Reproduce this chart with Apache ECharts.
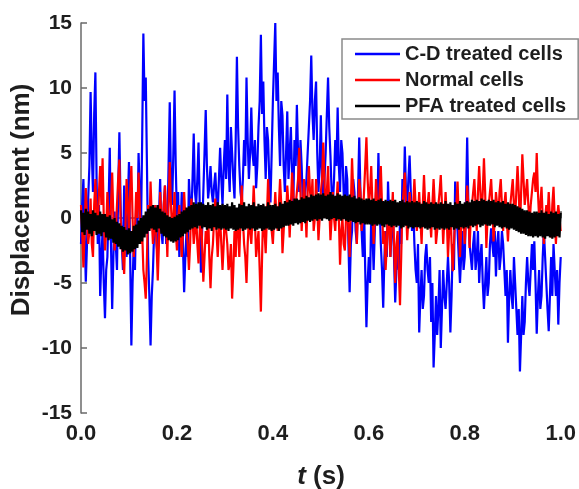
<!DOCTYPE html>
<html>
<head>
<meta charset="utf-8">
<script src="https://cdn.jsdelivr.net/npm/echarts@6/dist/echarts.min.js"></script>
<style>html,body{margin:0;padding:0;background:#fff;}#c{width:579px;height:489px;}</style>
</head>
<body>
<div id="c"></div>
<script>
// sampling step of the recorded traces (s)
const dt = 0.0025;
const seriesNames = ['C-D treated cells', 'Normal cells', 'PFA treated cells'];
const xTicks = ['0.0', '0.2', '0.4', '0.6', '0.8', '1.0'];
const yTicks = ['-15', '-10', '-5', '0', '5', '10', '15'];

// C-D treated cells displacement (nm)
const cdValues = [
-2,1,3,-1,-4.9,-2,1.5,4,9.7,5,2,8,11.2,3,-2,1,-6,-3,-1,-5,
-7.7,-4,-3,1,5.4,-2,-7,-3,0.5,-2,-4,2,6.6,1,-2,-4,2.5,0,-3,1,
4.3,-3,-9.8,-5,-2,-4,1,-1,5,2,-1,6,14.2,9,10.8,4,-3,-6,-9.8,-6,
-4,-1,1,-2,-3,0,3,-1,-2,1,2.5,-2,-1,4,8.9,3,1,5,9.8,4,
0,2,-3,-1,2,-2,-5.7,-3,-1,-3,3,1,0,3,6.5,2,1,3,5.8,1,
-4.2,-1,2,5,8.3,4,1.5,2.5,4,2,1.2,2.5,3.5,1.5,0.5,3,5.4,3,1,4,
6,3,9.5,4,2,7,5,3,1.5,6,12.4,7,4,2,1.2,3,6,4,10.8,6,
3,5,8.5,5,4,6,2.3,4,7,9,14.1,8,10.5,6,3,7,6,3,1.2,5,
9,12,15,9,11.2,7,4,9,7.9,4,2,5,8.2,3,5,7,3.3,1,6,4,
8.7,5,2,6,4,1,-0.3,2,3,5,7,9,12.5,8,6,9,10.5,5,2,4,
7.9,3,1,3,5,8,10.8,7,4.8,2,1,3,6,4,8.5,4,2,6,5,2,
0,4,3,-2,-5.7,-2,-1,3,2,-1,-2,2,6.2,2,-1,-3,1,-4,-8.4,-5,
-3,-5,0.2,-1,-4,-1,2,0,5,1,-2,-4,-6.9,-3,-1,-3,2.8,0,-3,-1,
1,-3,-6.5,-4,-2,-4,0,-2,3,1,5.5,2,1,3,4.8,2,-1,1,-2,-4,
-5,-2,-8.8,-6,-4,-7,-6,-3,-2,-4,-5,-3,-8,-5,-11.5,-9,-6,-9,-7,-4,
-10,-7,-4,-6,-7,-5,-3,-5,-8.8,-6,-2,-4,2.8,0,-1,-3,-5,-3,-1,-4,
-3,1,6.2,1,-2,-3,-4,-2,-1,-4,-3,-1,-5,-3,-2,-5,-7,-5,-3,-6,
-5,-2,-0.8,-2,-3,-1,-4.5,-2,-1,-4,-3,-1,-2,-4,-6,-4,-9.6,-6,-4,-6,
-7,-3,-5,-7,-9,-7,-11.8,-9,-6,-9,-8,-5,-3,-5,-6,-4,-2,-4,-1.8,-5,
-8.9,-6,-4,-7,-6,-3,-1,-3,-5,-7,-8.7,-6,-3,-6,-2,-4,-6,-4,-8.2,-5,
-3];

// Normal cells displacement (nm)
const normalValues = [
1,-1,-3.8,-1,2.3,0,-2,-1,1.5,-2,-3,1,3,0,-1,2,4,1,4.6,0,
-2.5,-1,2,0,-1.5,1,3.5,0,-2.5,-1,1,3,4.5,0,-2,-3,-4.3,-1,3,1,
-1,2,4,0,-3,-1,2,0,3.5,1,-2,-1,-4,-5,-6.2,-3,1,-1,2.8,0,
-2,-1,1,-2,-4.8,-2,2,0,-1,1,2.5,0,-3,1,4.3,1,-1,0,2,-1,
-2.5,0,1,-1,-3,-1,2,0,-1,-2,-4,-2,1.5,0,-2,-1,0.5,-2,-3.5,-1,
1,-2,-4.9,-3,-1,-2,0.5,-3,-5.4,-3,-2,0,1.5,-1,-3,-1,0,-2,-4,-2,
1,-1,-2,-4,-3.5,-2,-6.2,-4,-1,-3,0.5,-1,-3,0,2.5,0,-2,-3,-5,-2,
0,-1,-2,0,2.5,0,-3,-2,-1,-4,-7.2,-3,1,-1,-2.7,0,3,1,0,-1,
-2,0,2,0,-1,1,3,1,-2.7,-1,1,0,2.5,1,-1.5,1,3.5,2,0,1,
2,3,5.4,2,-1,1,3,1,-1.5,2,4,2,1,3,-1,0,3,1,-1.7,0,
2,3,5.8,3,0,2,4,1,-1.7,0,2,0,-1,1,2.8,0,-3.6,-1,0,-2,
-2.5,0,1.5,-1,-3,1,4.6,2,0,1,-2,1,3,2,-1,0,2,4,6.2,3,
1,2,4,1,-2,0,3,1,0,2,4,1,-2,-1,-4,-2,1,-1,-3,0,
2,-2,-5,-2,-1,-4,-6.7,-3,1,2,3.5,1,-1.7,0,2,1,0,1,3,1,
-1,0,2,0,-2,1,3.3,1,0,1,2,0,-1.5,1,3,1,-2,-1,1,2,
3.3,1,-2,0,2,0,-3,-1,1,-2,-4.1,-2,0,1,2.8,0,-3,-1,1,0,
-2,0,2.5,1,-2.3,0,1,2,3,1,-1,2,4,2,0,2,4.6,2,-2.3,0,
1,2,3,1,-1.8,0,2,1,0,2,3,1,-1,1,2,0,-1.8,0,1,2,
3,1,0,2,4,2,-1,2,4.9,3,1,2,3,1,-0.5,1,2,3,3.5,2,
5,2,0,1,2.4,0,-2,0,1,0,2,0,-1.5,1,2.4,0,-2,0,1,0,
-1];

// PFA treated cells displacement (nm)
const pfaValues = [
0.6,-1.1,0.4,-1.3,0.7,-0.9,0.5,-1.2,0.3,-1.4,0.6,-1.0,0.4,-1.3,0.2,-1.2,0.5,-1.4,0.3,-1.1,
0.3,-1.5,0.1,-1.7,0.2,-1.6,-0.1,-1.9,0.0,-2.0,-0.3,-2.2,-0.4,-2.4,-0.6,-2.6,-0.7,-2.5,-0.9,-2.8,
-0.8,-2.7,-1.0,-2.6,-0.6,-2.4,-0.5,-2.3,-0.2,-2.0,0.0,-1.8,0.2,-1.5,0.5,-1.2,0.7,-1.0,0.9,-0.8,
1.0,-0.9,0.8,-1.1,1.0,-0.8,0.7,-1.2,0.5,-1.4,0.4,-1.5,0.2,-1.7,0.1,-1.8,0.0,-1.9,0.1,-1.8,
0.2,-1.7,0.3,-1.5,0.5,-1.4,0.6,-1.2,0.8,-1.1,0.9,-0.9,1.0,-0.8,1.2,-0.7,1.1,-0.8,1.2,-0.6,
1.2,-0.8,1.1,-0.7,1.0,-0.9,1.2,-0.8,1.0,-1.0,1.1,-0.7,0.9,-0.9,1.2,-0.8,1.0,-0.9,1.1,-0.8,
1.0,-0.9,1.1,-1.0,0.9,-0.8,1.2,-0.9,1.0,-1.0,0.8,-0.9,1.1,-0.8,1.0,-1.0,1.2,-0.9,0.9,-0.8,
1.1,-0.9,1.0,-0.8,1.2,-1.0,0.9,-0.9,1.1,-0.8,1.0,-1.0,1.1,-0.9,0.9,-0.8,1.2,-0.9,1.0,-1.0,
1.0,-0.9,1.1,-0.8,0.9,-1.0,1.2,-0.8,1.1,-0.7,1.3,-0.6,1.2,-0.6,1.4,-0.5,1.3,-0.6,1.5,-0.4,
1.5,-0.5,1.4,-0.4,1.6,-0.3,1.5,-0.4,1.7,-0.2,1.6,-0.3,1.8,-0.2,1.7,-0.1,1.8,-0.2,1.9,-0.1,
1.8,-0.2,1.9,0.0,1.7,-0.1,1.8,-0.2,2.0,-0.1,1.8,0.0,1.7,-0.2,1.9,-0.1,1.8,-0.2,1.7,-0.1,
1.8,-0.2,1.7,-0.3,1.8,-0.2,1.6,-0.3,1.7,-0.4,1.5,-0.3,1.6,-0.5,1.5,-0.4,1.4,-0.5,1.5,-0.5,
1.5,-0.5,1.4,-0.6,1.5,-0.5,1.3,-0.6,1.4,-0.5,1.5,-0.6,1.3,-0.7,1.4,-0.5,1.3,-0.6,1.4,-0.7,
1.3,-0.6,1.4,-0.7,1.2,-0.6,1.3,-0.8,1.4,-0.7,1.2,-0.6,1.3,-0.8,1.2,-0.7,1.3,-0.8,1.2,-0.7,
1.3,-0.7,1.2,-0.8,1.1,-0.7,1.3,-0.8,1.2,-0.9,1.1,-0.8,1.2,-0.7,1.1,-0.9,1.2,-0.8,1.1,-0.9,
1.2,-0.8,1.1,-0.9,1.3,-0.8,1.1,-0.9,1.2,-0.7,1.0,-0.9,1.2,-0.8,1.1,-0.9,1.3,-0.7,1.1,-0.8,
1.2,-0.7,1.3,-0.8,1.2,-0.6,1.4,-0.7,1.3,-0.6,1.4,-0.5,1.3,-0.7,1.5,-0.6,1.4,-0.5,1.3,-0.6,
1.4,-0.6,1.3,-0.5,1.4,-0.7,1.2,-0.6,1.3,-0.7,1.2,-0.8,1.3,-0.7,1.1,-0.8,1.2,-0.9,1.1,-0.8,
1.1,-0.9,1.0,-1.0,0.9,-1.1,0.8,-1.2,0.7,-1.2,0.6,-1.3,0.6,-1.4,0.5,-1.4,0.4,-1.5,0.5,-1.4,
0.5,-1.5,0.4,-1.4,0.6,-1.5,0.4,-1.6,0.5,-1.4,0.3,-1.5,0.5,-1.6,0.4,-1.5,0.5,-1.4,0.3,-1.5,
0.4];

const FONT = '"Liberation Sans", Arial, sans-serif';
const TXT = '#1e1e1e';
const AX = '#6a6a6a';

function pairs(vals) { return vals.map((v, i) => [+(i * dt).toFixed(5), v]); }

const chart = echarts.init(document.getElementById('c'), null, { renderer: 'canvas' });
chart.setOption({
  animation: false,
  backgroundColor: '#ffffff',
  grid: { left: 81, right: 18, top: 23, bottom: 76, containLabel: false },
  legend: {
    orient: 'vertical',
    left: 342, top: 39,
    data: seriesNames,
    icon: 'rect',
    itemWidth: 45, itemHeight: 2.5,
    itemGap: 6,
    padding: [5, 12, 3, 13],
    borderColor: '#8a8a8a', borderWidth: 1.5,
    backgroundColor: '#ffffff',
    textStyle: { fontFamily: FONT, fontWeight: 'bold', fontSize: 20, color: TXT, lineHeight: 20 }
  },
  xAxis: {
    type: 'value', min: 0, max: 1, interval: 0.2,
    axisLine: { show: true, lineStyle: { color: AX, width: 1.5 } },
    axisTick: { show: true, inside: true, length: 7, lineStyle: { color: AX, width: 1.5 } },
    splitLine: { show: false },
    axisLabel: {
      margin: 10, fontFamily: FONT, fontWeight: 'bold', fontSize: 22, color: TXT,
      formatter: (v) => xTicks[Math.round(v / 0.2)]
    }
  },
  yAxis: {
    type: 'value', min: -15, max: 15, interval: 5,
    axisLine: { show: true, onZero: false, lineStyle: { color: AX, width: 1.5 } },
    axisTick: { show: true, inside: true, length: 6, lineStyle: { color: AX, width: 1.5 } },
    splitLine: { show: false },
    axisLabel: {
      margin: 9, fontFamily: FONT, fontWeight: 'bold', fontSize: 21, color: TXT,
      formatter: (v) => yTicks[Math.round((v + 15) / 5)]
    }
  },
  graphic: [
    {
      type: 'text', x: 22, y: 200, rotation: Math.PI / 2,
      style: { text: 'Displacement (nm)', fontFamily: FONT, fontWeight: 'bold', fontSize: 26, fill: TXT, align: 'center', verticalAlign: 'middle' }
    },
    {
      type: 'text', x: 321, y: 477,
      style: {
        text: '{i|t} (s)', align: 'center', verticalAlign: 'middle',
        fontFamily: FONT, fontWeight: 'bold', fontSize: 26, fill: TXT,
        rich: { i: { fontFamily: FONT, fontWeight: 'bold', fontStyle: 'italic', fontSize: 26, fill: TXT } }
      }
    }
  ],
  series: [
    { name: seriesNames[0], type: 'line', data: pairs(cdValues), symbol: 'none', color: '#0000ff', lineStyle: { color: '#0000ff', width: 2.2 } },
    { name: seriesNames[1], type: 'line', data: pairs(normalValues), symbol: 'none', color: '#ff0000', lineStyle: { color: '#ff0000', width: 2.2 } },
    { name: seriesNames[2], type: 'line', data: pairs(pfaValues), symbol: 'none', color: '#000000', lineStyle: { color: '#000000', width: 2.2 } }
  ]
});
</script>
</body>
</html>
